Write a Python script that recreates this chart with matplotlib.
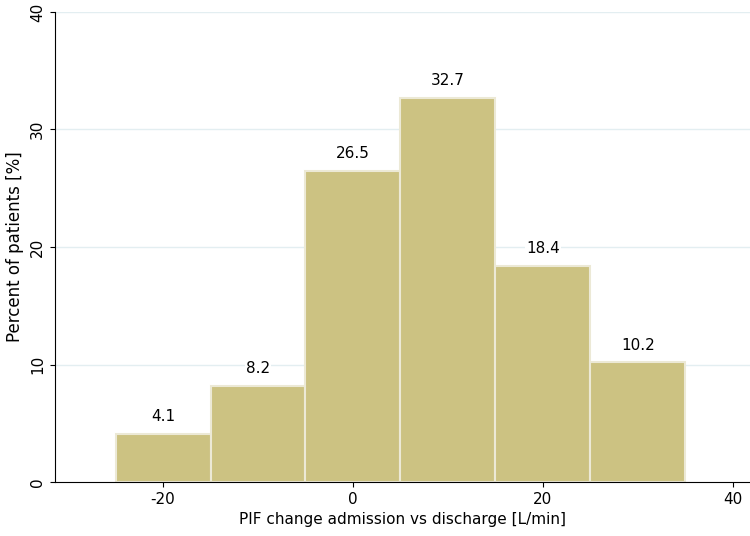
import matplotlib
matplotlib.use("Agg")
import matplotlib.pyplot as plt
plt.rcParams["axes.unicode_minus"] = False

bin_left = [-25, -15, -5, 5, 15, 25]
bin_width = 10
percents = [4.1, 8.2, 26.5, 32.7, 18.4, 10.2]
xticks = [-20, 0, 20, 40]
yticks = [0, 10, 20, 30, 40]

fig = plt.figure(figsize=(7.5, 5.36), dpi=100)
ax = fig.add_axes([0.073, 0.1007, 0.927, 0.877])
for y in yticks[1:]:
    ax.axhline(y, color="#e3eef1", lw=1, zorder=0)
ax.bar(bin_left, percents, width=bin_width, align="edge", color="#ccc282",
       edgecolor="#ece9d6", linewidth=1.5, zorder=2)
for x, p in zip(bin_left, percents):
    ax.text(x + bin_width / 2, p + 0.8, f"{p}", ha="center", va="bottom", fontsize=11,
            bbox=dict(facecolor="white", edgecolor="none", pad=1), zorder=3)
ax.set_xlim(-31.4, 41.8)
ax.set_ylim(0, 40)
ax.set_xticks(xticks)
ax.set_xticklabels([str(t) for t in xticks])
ax.set_yticks(yticks)
ax.set_yticklabels([str(t) for t in yticks], rotation=90, va="center")
ax.tick_params(labelsize=11)
ax.spines["top"].set_visible(False)
ax.spines["right"].set_visible(False)
ax.set_xlabel("PIF change admission vs discharge [L/min]", fontsize=11)
ax.set_ylabel("Percent of patients [%]", fontsize=12)
fig.savefig("out.png", dpi=100)
